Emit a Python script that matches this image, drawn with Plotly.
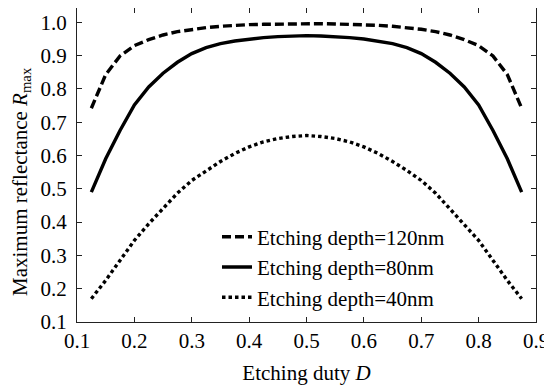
import plotly.graph_objects as go

duty = [0.125, 0.15, 0.175, 0.2, 0.225, 0.25, 0.275, 0.3, 0.325, 0.35, 0.375, 0.4, 0.425, 0.45, 0.475, 0.5,
        0.525, 0.55, 0.575, 0.6, 0.625, 0.65, 0.675, 0.7, 0.725, 0.75, 0.775, 0.8, 0.825, 0.85, 0.875]

r_120 = [0.742, 0.843, 0.899, 0.930, 0.948, 0.962, 0.972, 0.979, 0.984, 0.988, 0.991, 0.993, 0.994, 0.995, 0.996, 0.996,
         0.996, 0.995, 0.994, 0.993, 0.991, 0.988, 0.984, 0.979, 0.972, 0.962, 0.948, 0.930, 0.899, 0.843, 0.742]
r_80 = [0.490, 0.590, 0.675, 0.752, 0.806, 0.847, 0.880, 0.906, 0.924, 0.936, 0.944, 0.950, 0.954, 0.957, 0.959, 0.960,
        0.959, 0.957, 0.954, 0.950, 0.944, 0.936, 0.924, 0.906, 0.880, 0.847, 0.806, 0.752, 0.675, 0.590, 0.490]
r_40 = [0.170, 0.225, 0.285, 0.345, 0.395, 0.440, 0.487, 0.525, 0.555, 0.582, 0.606, 0.626, 0.641, 0.651, 0.657, 0.660,
        0.657, 0.651, 0.641, 0.626, 0.606, 0.582, 0.555, 0.525, 0.487, 0.440, 0.395, 0.345, 0.285, 0.225, 0.170]

names = ["Etching depth=120nm", "Etching depth=80nm", "Etching depth=40nm"]
x_ticks = [0.1, 0.2, 0.3, 0.4, 0.5, 0.6, 0.7, 0.8, 0.9]
y_ticks = [0.1, 0.2, 0.3, 0.4, 0.5, 0.6, 0.7, 0.8, 0.9, 1.0]
y_title = "Maximum reflectance <i>R</i><sub>max</sub>"
x_title = "Etching duty <i>D</i>"

FONT = "Liberation Serif"

fig = go.Figure()
styles = ["9px,4px", "solid", "3.5px,3px"]
for i, (ys, nm, ds) in enumerate(zip([r_120, r_80, r_40], names, styles)):
    fig.add_trace(go.Scatter(x=duty, y=ys, name=nm, mode="lines",
                             line=dict(color="black", width=3.4, dash=ds)))

axis_common = dict(showline=True, linecolor="#222", linewidth=1.3, mirror="ticks",
                   ticks="inside", ticklen=5, tickwidth=1, tickcolor="#222",
                   showgrid=False, zeroline=False,
                   tickfont=dict(family=FONT, size=21, color="black"))

fig.update_layout(
    width=544, height=381,
    margin=dict(l=69, r=16, t=0, b=67),
    paper_bgcolor="white", plot_bgcolor="white",
    font=dict(family=FONT, size=21, color="black"),
    showlegend=True,
    legend=dict(x=0.305, y=0.175, xanchor="left", yanchor="middle", bgcolor="rgba(0,0,0,0)",
                font=dict(family=FONT, size=21, color="black")),
    xaxis=dict(range=[0.1, 0.9], tickvals=x_ticks, ticktext=[f"{v:.1f}" for v in x_ticks],
               title=dict(text=x_title, font=dict(family=FONT, size=21), standoff=12),
               **axis_common),
    yaxis=dict(range=[0.1, 1.043], tickvals=y_ticks, ticktext=[f"{v:.1f}" for v in y_ticks],
               ticklabelstandoff=5, **axis_common),
    annotations=[dict(text=y_title, xref="paper", yref="paper", x=-0.122, y=0.446,
                      xanchor="center", yanchor="middle", textangle=-90, showarrow=False,
                      font=dict(family=FONT, size=21, color="black"))],
)

fig.write_html("out.html")
